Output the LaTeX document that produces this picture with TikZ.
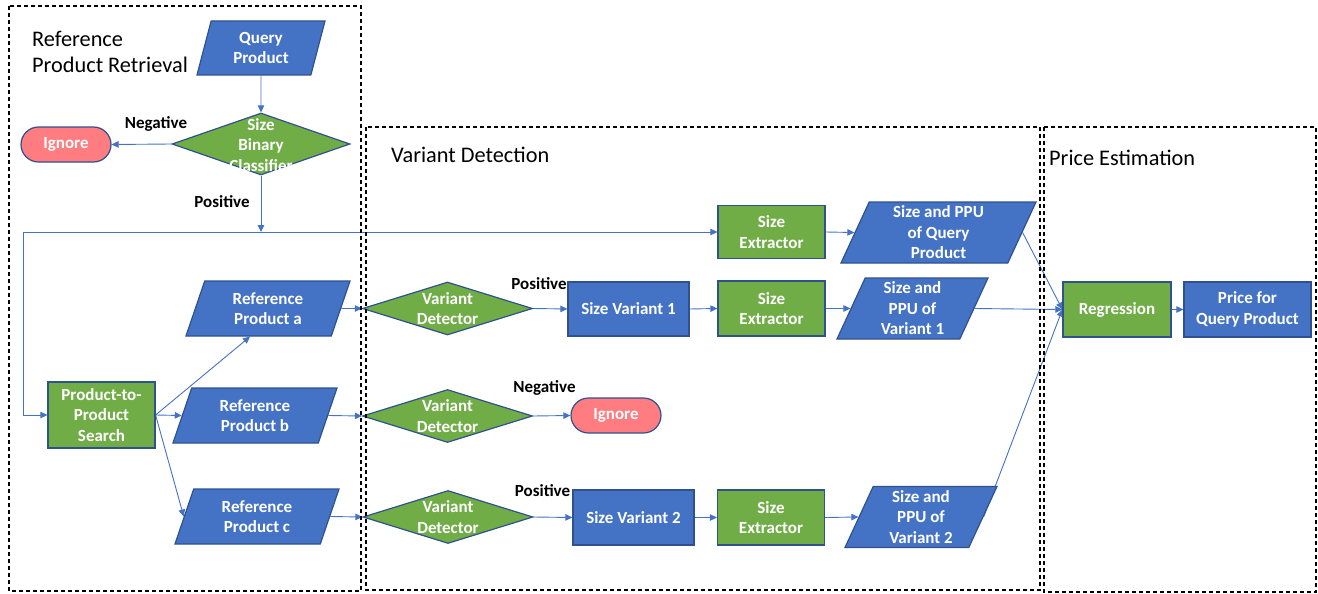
\documentclass[tikz,border=0pt]{standalone}
\usepackage{fontspec}
\setmainfont{Carlito}
\usetikzlibrary{shapes.geometric,arrows.meta,calc,backgrounds}
\definecolor{cblue}{HTML}{4472C4}
\definecolor{cborder}{HTML}{2F528F}
\definecolor{cgreen}{HTML}{70AD47}
\definecolor{cred}{HTML}{FF7C80}
\begin{document}
\begin{tikzpicture}[x=1pt,y=-1pt,
  shapebase/.style={draw=cborder, line width=1.2pt, text=white, font=\fontsize{17}{20.5}\selectfont\bfseries, align=center, inner sep=0pt},
  bluebox/.style={shapebase, fill=cblue, rectangle},
  greenbox/.style={shapebase, fill=cgreen, rectangle},
  paraA/.style={shapebase, fill=cblue, trapezium, trapezium left angle=60, trapezium right angle=120, trapezium stretches body},
  paraB/.style={shapebase, fill=cblue, trapezium, trapezium left angle=62, trapezium right angle=118, trapezium stretches body},
  paraC/.style={shapebase, fill=cblue, trapezium, trapezium left angle=66, trapezium right angle=114, trapezium stretches body},
  dia/.style={shapebase, fill=cgreen, diamond},
  dtext/.style={text=white, font=\fontsize{17}{20.5}\selectfont\bfseries, align=center, inner sep=0pt},
  ignorebox/.style={shapebase, fill=cred, rectangle, rounded corners=17.5pt, minimum width=90, minimum height=35},
  lbl/.style={font=\fontsize{17}{20.5}\selectfont\bfseries, inner sep=0pt},
  ttl/.style={font=\fontsize{22.3}{26}\selectfont, inner sep=0pt, align=left, anchor=west},
  conn/.style={draw=cblue, line width=0.9pt, -{Triangle[length=7pt,width=6.5pt]}},
  dbox/.style={draw=black, line width=1.1pt, dash pattern=on 4pt off 3pt}
]
\useasboundingbox (0,0) rectangle (1318,594);

% titles
\node[ttl] (t1) at (32,52) {Reference\\Product Retrieval};
\node[ttl] (t2) at (391,155) {Variant Detection};
\node[ttl] (t3) at (1049,158) {Price Estimation};

% left part
\node[paraC, minimum width=128, minimum height=54] (qp) at (261,48) {Query\\Product};
\node[dia, minimum width=178, minimum height=62] (d1) at (261,144) {};
\node[dtext] (d1t) at ($(d1)+(0,1)$) {Size\\Binary\\Classifier};
\node[ignorebox] (ig1) at (66,144.5) {Ignore};
\node[greenbox, minimum width=107, minimum height=66] (p2p) at (101.5,415) {Product-to-\\Product\\Search};
\node[paraA, minimum width=164, minimum height=55] (ra) at (268,308.5) {Reference\\Product a};
\node[paraA, minimum width=164, minimum height=55] (rb) at (255,415.5) {Reference\\Product b};
\node[paraA, minimum width=164, minimum height=55] (rc) at (257,516.5) {Reference\\Product c};

% variant detection
\node[dia, minimum width=170, minimum height=53] (vd1) at (447.5,308.5) {};
\node[dtext] (vd1t) at (vd1) {Variant\\Detector};
\node[dia, minimum width=170, minimum height=53] (vd2) at (447.5,416) {};
\node[dtext] (vd2t) at (vd2) {Variant\\Detector};
\node[dia, minimum width=170, minimum height=53] (vd3) at (448,517) {};
\node[dtext] (vd3t) at (vd3) {Variant\\Detector};
\node[bluebox, minimum width=121, minimum height=54] (sv1) at (628.5,309) {Size Variant 1};
\node[ignorebox] (ig2) at (616,415.5) {Ignore};
\node[bluebox, minimum width=121, minimum height=55] (sv2) at (633.5,517.5) {Size Variant 2};
\node[greenbox, minimum width=107, minimum height=53] (se1) at (771.5,232) {Size\\Extractor};
\node[greenbox, minimum width=107, minimum height=55] (se2) at (771.5,308.5) {Size\\Extractor};
\node[greenbox, minimum width=107, minimum height=55] (se3) at (771,517.5) {Size\\Extractor};
\node[paraB, minimum width=195, minimum height=61] (pq) at (938.5,232.5) {Size and PPU\\of Query\\Product};
\node[paraB, minimum width=151, minimum height=61] (p1) at (912.5,308.5) {Size and\\PPU of\\Variant 1};
\node[paraB, minimum width=152, minimum height=61] (p2) at (921,517) {Size and\\PPU of\\Variant 2};

% price estimation
\node[greenbox, minimum width=108, minimum height=55] (reg) at (1117,309.5) {Regression};
\node[bluebox, minimum width=127, minimum height=55] (price) at (1247.5,309.5) {Price for\\Query Product};

% labels
\node[lbl] (l1) at (156,124) {Negative};
\node[lbl] (l2) at (222,202) {Positive};
\node[lbl] (l3) at (539,284) {Positive};
\node[lbl] (l4) at (544.5,388) {Negative};
\node[lbl] (l5) at (542.5,491) {Positive};

\coordinate (jn) at (261,232);
\coordinate (lc) at (23,232);

\begin{scope}[on background layer]
\draw[conn] (qp) -- (d1);
\draw[conn] (d1.west) -- (ig1.east);
\draw[conn] (d1.south) -- (jn);
\draw[conn] (lc) -- (se1.west);
\draw[conn] (lc) |- (p2p.west);
\draw[conn] (p2p.east) -- ($(ra.south)+(-18,0)$);
\draw[conn] (p2p.east) -- (rb.west);
\draw[conn] (p2p.east) -- (rc.west);
\draw[conn] (ra.east) -- (vd1.west);
\draw[conn] (rb.east) -- (vd2.west);
\draw[conn] (rc.east) -- (vd3.west);
\draw[conn] (vd1.east) -- (sv1.west);
\draw[conn] (vd2.east) -- (ig2.west);
\draw[conn] (vd3.east) -- (sv2.west);
\draw[conn] (sv1.east) -- (se2.west);
\draw[conn] (sv2.east) -- (se3.west);
\draw[conn] (se1.east) -- (pq.west);
\draw[conn] (se2.east) -- (p1.west);
\draw[conn] (se3.east) -- (p2.west);
\draw[conn] (pq.east) -- (reg.west);
\draw[conn] (p1.east) -- (reg.west);
\draw[conn] (p2.east) -- (reg.west);
\draw[conn] (reg.east) -- (price.west);
\end{scope}

% dashed regions
\draw[dbox] (9,6) rectangle (361,591);
\draw[dbox] (366,127) rectangle (1040,590);
\draw[dbox] (1044,127) rectangle (1316,592);
\end{tikzpicture}
\end{document}
